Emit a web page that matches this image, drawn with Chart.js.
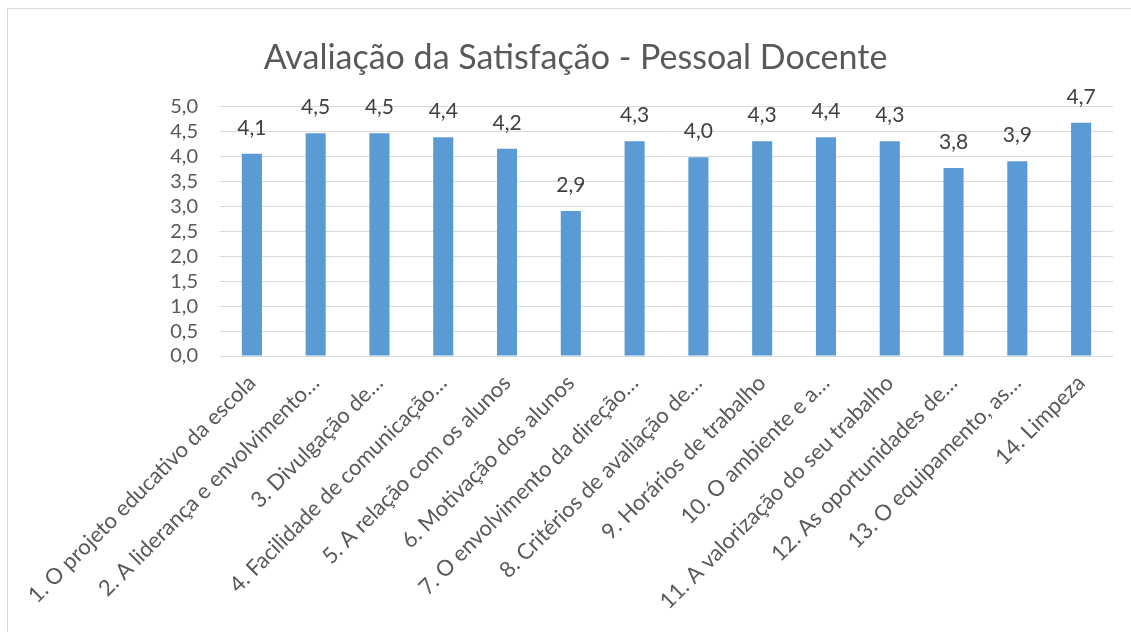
<!DOCTYPE html>
<html>
<head>
<meta charset="utf-8">
<script src="https://cdn.jsdelivr.net/npm/chart.js@4"></script>
<style>
  html, body { margin: 0; padding: 0; background: #fff; overflow: hidden; }
  #frame {
    position: absolute; left: 7px; top: 8px;
    width: 1135px; height: 640px;
    border: 1px solid #d9d9d9; background: #fff;
  }
  #myChart { display: block; }
</style>
</head>
<body>
<div id="frame"><canvas id="myChart" width="1135" height="640"></canvas></div>
<script>
const titleText = 'Avaliação da Satisfação - Pessoal Docente';
const categories = [
  '1. O projeto educativo da escola',
  '2. A liderança e envolvimento…',
  '3. Divulgação de…',
  '4. Facilidade de comunicação…',
  '5. A relação com os alunos',
  '6. Motivação dos alunos',
  '7. O envolvimento da direção…',
  '8. Critérios de avaliação de…',
  '9. Horários de trabalho',
  '10. O ambiente e a…',
  '11. A valorização do seu trabalho',
  '12. As oportunidades de…',
  '13. O equipamento, as…',
  '14. Limpeza'
];
const satisfacao = [4.06, 4.47, 4.47, 4.39, 4.16, 2.91, 4.31, 3.99, 4.31, 4.39, 4.31, 3.77, 3.91, 4.68];
const yTicks = [0, 0.5, 1, 1.5, 2, 2.5, 3, 3.5, 4, 4.5, 5];

const fontFamily = 'Lato, "Open Sans", sans-serif';
const fmt = v => v.toFixed(1).replace('.', ',');

// value labels above each bar
const barLabels = {
  id: 'barLabels',
  afterDatasetsDraw(chart) {
    const ctx = chart.ctx;
    const meta = chart.getDatasetMeta(0);
    ctx.save();
    ctx.font = '21px ' + fontFamily;
    ctx.fillStyle = '#404040';
    ctx.textAlign = 'center';
    ctx.textBaseline = 'alphabetic';
    meta.data.forEach((bar, i) => {
      ctx.fillText(fmt(satisfacao[i]), bar.x, bar.y - 19);
    });
    ctx.restore();
  }
};

new Chart(document.getElementById('myChart'), {
  type: 'bar',
  data: {
    labels: categories,
    datasets: [{
      label: 'Satisfação',
      data: satisfacao,
      backgroundColor: '#5B9BD5',
      borderWidth: 0,
      barPercentage: 0.63,
      categoryPercentage: 0.5
    }]
  },
  options: {
    responsive: false,
    animation: false,
    layout: { padding: { left: 30, right: 30, top: 0, bottom: 0 } },
    plugins: {
      legend: { display: false },
      tooltip: { enabled: false },
      title: {
        display: true,
        text: titleText,
        color: '#595959',
        font: { family: fontFamily, size: 34, weight: 'normal' },
        padding: { top: 29, bottom: 28 }
      }
    },
    scales: {
      x: {
        grid: { display: false },
        border: { display: false },
        ticks: {
          color: '#595959',
          font: { family: fontFamily, size: 22 },
          maxRotation: 45,
          minRotation: 45,
          autoSkip: false,
          padding: 6
        },
        afterFit(scale) { scale.height = 293; }
      },
      y: {
        min: 0,
        max: 5,
        afterBuildTicks(scale) { scale.ticks = yTicks.map(v => ({ value: v })); },
        grid: { color: '#d9d9d9', lineWidth: 1, drawTicks: false },
        border: { display: false },
        ticks: {
          color: '#595959',
          font: { family: fontFamily, size: 20 },
          padding: 22,
          autoSkip: false,
          callback: v => fmt(v)
        },
        afterFit(scale) { scale.width = 182; }
      }
    }
  },
  plugins: [barLabels]
});
</script>
</body>
</html>
